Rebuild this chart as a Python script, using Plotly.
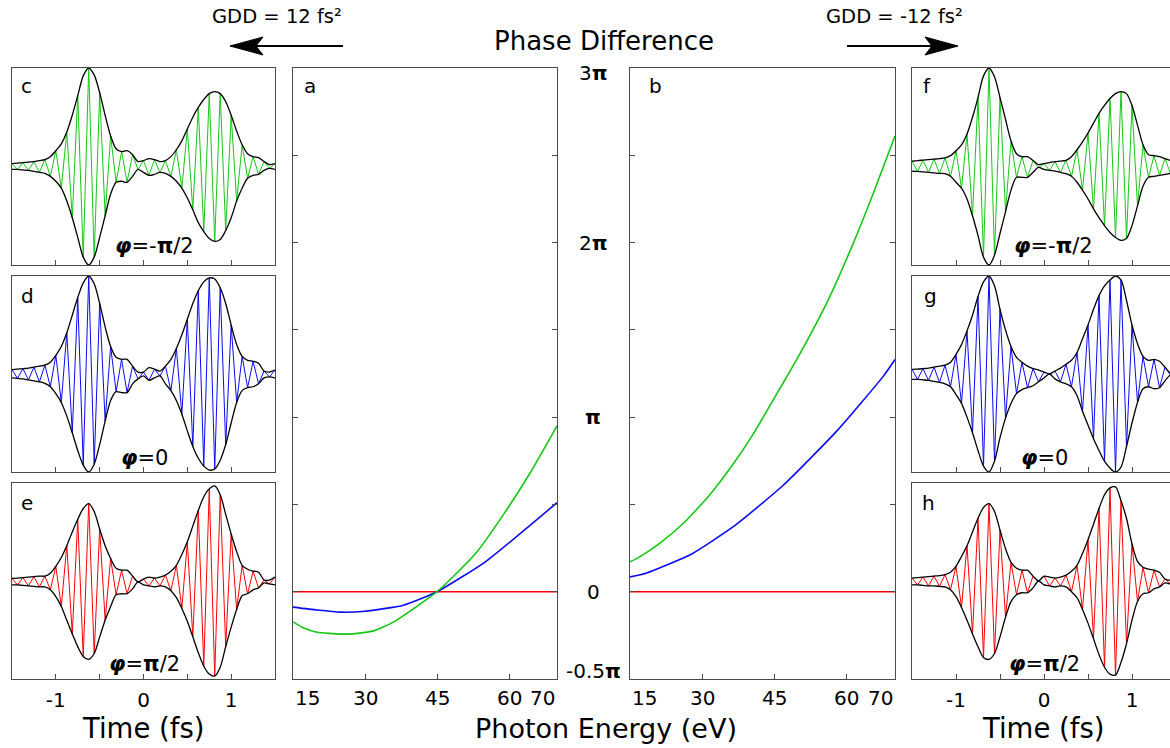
import plotly.graph_objects as go

W, H = 1170, 748

# ---------------- Phase difference data (units of pi) ----------------
E_A_GREEN = [15, 17, 20, 25, 28, 32, 36, 40, 45, 48.3, 53.3, 58.8, 64.4, 70]
PHI_A_GREEN = [-0.173, -0.205, -0.232, -0.243, -0.24, -0.223, -0.173, -0.10, 0.0, 0.084, 0.227, 0.44, 0.68, 0.95]
E_A_BLUE = [15, 20, 25, 30, 38, 45, 55, 70]
PHI_A_BLUE = [-0.088, -0.105, -0.117, -0.112, -0.077, 0.0, 0.17, 0.51]
E_B_GREEN = [15, 16.9, 21.3, 26.2, 31.4, 36.3, 40.5, 45.4, 50.6, 56.2, 61.4, 65.6, 70]
PHI_B_GREEN = [0.171, 0.198, 0.28, 0.395, 0.55, 0.727, 0.90, 1.13, 1.38, 1.675, 2.0, 2.29, 2.61]
E_B_BLUE = [15, 18.3, 27.7, 36.8, 46.8, 57.9, 67.6, 70]
PHI_B_BLUE = [0.085, 0.106, 0.215, 0.38, 0.61, 0.92, 1.235, 1.33]
E_RED = [15, 70]
PHI_RED = [0.0, 0.0]

PHASE_TICKVALS = [-0.5, 0, 0.5, 1, 1.5, 2, 2.5, 3]
PHASE_LABELS = [(3, "3<b>π</b>"), (2, "2<b>π</b>"), (1, "<b>π</b>"), (0, "0"), (-0.5, "-0.5<b>π</b>")]
ENERGY_TICKS = [15, 30, 45, 60, 70]
TIME_TICKS = [-1, 0, 1]
TIME_MINOR_TICKS = [-0.5, 0.5]

# ---------------- Time-domain fields (normalised) ----------------
T_GRID = [round(-1.5 + 0.0625 * i, 4) for i in range(49)]

U_C = [0.03, 0.035, 0.04, 0.045, 0.05, 0.06, 0.07, 0.10, 0.16, 0.23, 0.35, 0.52, 0.72, 0.92, 1.00, 0.93, 0.75, 0.52, 0.31, 0.18, 0.15, 0.16, 0.12, 0.05, 0.06,
       0.08, 0.07, 0.05, 0.06, 0.10, 0.17, 0.26, 0.38, 0.50, 0.60, 0.68, 0.74, 0.76, 0.74, 0.66, 0.52, 0.36, 0.22, 0.13, 0.10, 0.09, 0.05, 0.02, 0.03]
L_C = [-0.03, -0.03, -0.035, -0.04, -0.05, -0.06, -0.07, -0.10, -0.15, -0.22, -0.35, -0.52, -0.72, -0.92, -1.00, -0.92, -0.72, -0.50, -0.28, -0.16, -0.15, -0.16, -0.10, -0.03, -0.06,
       -0.09, -0.08, -0.06, -0.07, -0.10, -0.15, -0.22, -0.32, -0.44, -0.57, -0.66, -0.73, -0.76, -0.74, -0.65, -0.52, -0.35, -0.22, -0.12, -0.09, -0.08, -0.04, -0.02, -0.03]

U_D = [0.045, 0.05, 0.055, 0.06, 0.07, 0.08, 0.09, 0.12, 0.19, 0.28, 0.42, 0.60, 0.78, 0.93, 1.00, 0.92, 0.72, 0.48, 0.28, 0.17, 0.15, 0.15, 0.08, 0.02, 0.02,
       0.065, 0.05, 0.03, 0.08, 0.15, 0.26, 0.40, 0.56, 0.72, 0.85, 0.94, 0.98, 0.97, 0.88, 0.72, 0.50, 0.30, 0.18, 0.14, 0.13, 0.11, 0.03, 0.02, 0.04]
L_D = [-0.04, -0.045, -0.05, -0.06, -0.07, -0.08, -0.095, -0.13, -0.20, -0.29, -0.43, -0.60, -0.78, -0.93, -1.00, -0.92, -0.72, -0.48, -0.27, -0.18, -0.19, -0.19, -0.10, -0.05, -0.02,
       -0.065, -0.04, -0.02, -0.10, -0.17, -0.27, -0.41, -0.58, -0.74, -0.86, -0.94, -0.98, -0.97, -0.88, -0.72, -0.50, -0.29, -0.17, -0.14, -0.13, -0.10, -0.04, -0.03, -0.04]

U_E = [0.026, 0.03, 0.035, 0.04, 0.045, 0.05, 0.05, 0.08, 0.15, 0.24, 0.36, 0.50, 0.63, 0.74, 0.79, 0.71, 0.53, 0.36, 0.23, 0.13, 0.11, 0.11, 0.05, -0.01, 0.02,
       0.04, 0.03, 0.04, 0.06, 0.10, 0.16, 0.27, 0.40, 0.56, 0.72, 0.86, 0.94, 0.97, 0.88, 0.68, 0.48, 0.30, 0.16, 0.12, 0.10, 0.09, 0.01, 0.01, 0.04]
L_E = [-0.04, -0.04, -0.045, -0.05, -0.055, -0.06, -0.06, -0.09, -0.16, -0.26, -0.40, -0.54, -0.67, -0.77, -0.80, -0.74, -0.57, -0.40, -0.26, -0.14, -0.13, -0.13, -0.08, -0.01, -0.04,
       -0.05, -0.06, -0.05, -0.06, -0.10, -0.17, -0.28, -0.41, -0.57, -0.73, -0.87, -0.95, -0.97, -0.88, -0.67, -0.47, -0.29, -0.15, -0.13, -0.09, -0.07, -0.02, -0.03, -0.04]

U_F = [0.053, 0.06, 0.065, 0.07, 0.075, 0.08, 0.087, 0.11, 0.16, 0.22, 0.33, 0.50, 0.70, 0.92, 1.00, 0.91, 0.70, 0.48, 0.26, 0.13, 0.10, 0.10, 0.06, 0.02, 0.03,
       0.04, 0.05, 0.055, 0.063, 0.10, 0.17, 0.25, 0.34, 0.44, 0.54, 0.62, 0.69, 0.74, 0.76, 0.74, 0.62, 0.42, 0.22, 0.12, 0.11, 0.10, 0.08, 0.06, 0.05]
L_F = [-0.046, -0.05, -0.055, -0.06, -0.065, -0.07, -0.073, -0.10, -0.16, -0.22, -0.33, -0.50, -0.70, -0.92, -1.00, -0.90, -0.68, -0.46, -0.24, -0.11, -0.11, -0.11, -0.06, -0.01, -0.03,
       -0.04, -0.046, -0.06, -0.073, -0.10, -0.16, -0.24, -0.33, -0.43, -0.52, -0.60, -0.67, -0.72, -0.75, -0.73, -0.60, -0.40, -0.20, -0.11, -0.10, -0.09, -0.08, -0.07, -0.06]

U_G = [0.048, 0.05, 0.055, 0.06, 0.07, 0.08, 0.09, 0.12, 0.20, 0.30, 0.44, 0.60, 0.79, 0.94, 1.00, 0.90, 0.66, 0.45, 0.28, 0.17, 0.12, 0.08, 0.055, 0.04, 0.02,
       0.0, 0.03, 0.06, 0.10, 0.14, 0.22, 0.36, 0.50, 0.66, 0.80, 0.90, 0.96, 1.00, 0.96, 0.75, 0.50, 0.31, 0.18, 0.14, 0.15, 0.13, 0.07, 0.01, 0.03]
L_G = [-0.054, -0.055, -0.06, -0.065, -0.075, -0.085, -0.10, -0.13, -0.21, -0.30, -0.44, -0.60, -0.78, -0.94, -1.00, -0.89, -0.65, -0.45, -0.30, -0.20, -0.16, -0.14, -0.12, -0.08, -0.04,
       0.0, -0.05, -0.08, -0.10, -0.13, -0.22, -0.38, -0.52, -0.66, -0.78, -0.89, -0.96, -1.00, -0.95, -0.74, -0.50, -0.29, -0.15, -0.13, -0.15, -0.14, -0.07, -0.01, -0.03]

U_H = [0.03, 0.035, 0.04, 0.045, 0.05, 0.055, 0.065, 0.09, 0.15, 0.25, 0.36, 0.50, 0.64, 0.75, 0.79, 0.71, 0.52, 0.33, 0.19, 0.13, 0.11, 0.11, 0.05, 0.0, 0.05,
       0.04, 0.03, 0.04, 0.06, 0.10, 0.16, 0.28, 0.42, 0.58, 0.74, 0.88, 0.95, 0.96, 0.82, 0.64, 0.38, 0.20, 0.14, 0.12, 0.11, 0.09, 0.02, 0.01, 0.04]
L_H = [-0.04, -0.04, -0.045, -0.05, -0.05, -0.055, -0.06, -0.09, -0.16, -0.27, -0.40, -0.54, -0.67, -0.78, -0.80, -0.74, -0.57, -0.37, -0.21, -0.14, -0.12, -0.12, -0.07, 0.0, -0.04,
       -0.05, -0.06, -0.05, -0.06, -0.11, -0.17, -0.29, -0.43, -0.59, -0.75, -0.88, -0.95, -0.96, -0.83, -0.64, -0.40, -0.21, -0.13, -0.12, -0.08, -0.06, -0.02, -0.03, -0.04]

GREEN = "rgb(20,200,20)"
BLUE = "rgb(10,10,245)"
RED = "rgb(255,0,0)"
FRAME = "#4a4a4a"
FONT = "DejaVu Sans"


def px(x):
    return x / W


def py(y):
    return 1 - y / H


fig = go.Figure()

# axis layout: (index, x0, x1, y0, y1)
AX = {
    "c": (1, 12, 275, 68, 265), "d": (2, 12, 275, 276, 472), "e": (3, 12, 275, 483, 679),
    "a": (4, 293, 557, 68, 679), "b": (5, 630, 895, 68, 679),
    "f": (6, 912, 1170, 68, 265), "g": (7, 912, 1170, 276, 472), "h": (8, 912, 1170, 483, 679),
}

layout_axes = {}
for key, (i, x0, x1, y0, y1) in AX.items():
    sfx = "" if i == 1 else str(i)
    xa = dict(domain=[px(x0), px(x1)], anchor="y" + sfx, showgrid=False, zeroline=False,
              automargin=False,
              showline=True, linecolor=FRAME, linewidth=1, mirror=True,
              ticks="inside", ticklen=5, tickcolor=FRAME, tickwidth=1,
              tickfont=dict(family=FONT, size=20, color="black"), fixedrange=True)
    ya = dict(domain=[py(y1), py(y0)], anchor="x" + sfx, showgrid=False, zeroline=False,
              automargin=False,
              showline=True, linecolor=FRAME, linewidth=1, fixedrange=True)
    if key in ("a", "b"):
        xa.update(range=[15, 70], tickvals=ENERGY_TICKS, showticklabels=False)
        ya.update(range=[-0.5, 3], tickvals=PHASE_TICKVALS, ticks="inside", ticklen=5,
                  tickcolor=FRAME, tickwidth=1, mirror="ticks", showticklabels=False)
    else:
        rng = [-1.5, 1.5] if key in ("c", "d", "e") else [-1.5, 1.5 - 6 / 88]
        xa.update(range=rng, tickvals=TIME_TICKS, ticktext=[str(v) for v in TIME_TICKS],
                  minor=dict(tickvals=TIME_MINOR_TICKS, ticks="inside", ticklen=5,
                             tickcolor=FRAME, tickwidth=1, showgrid=False),
                  showticklabels=key in ("e", "h"), ticklabelstandoff=3)
        ya.update(range=[-1, 1], ticks="", showticklabels=False,
                  mirror=key in ("c", "d", "e"))
    layout_axes["xaxis" + sfx] = xa
    layout_axes["yaxis" + sfx] = ya


def ref(key):
    i = AX[key][0]
    return ("x", "y") if i == 1 else ("x%d" % i, "y%d" % i)


# phase panels
for key, series in (("a", [(E_RED, PHI_RED, RED), (E_A_BLUE, PHI_A_BLUE, BLUE), (E_A_GREEN, PHI_A_GREEN, GREEN)]),
                    ("b", [(E_RED, PHI_RED, RED), (E_B_BLUE, PHI_B_BLUE, BLUE), (E_B_GREEN, PHI_B_GREEN, GREEN)])):
    xr, yr = ref(key)
    for ex, ph, col in series:
        fig.add_trace(go.Scatter(x=ex, y=ph, mode="lines", line=dict(color=col, width=1.6, shape="spline", smoothing=0.5),
                                 xaxis=xr, yaxis=yr, hoverinfo="skip"))

# field panels
FIELDS = {
    "c": (U_C, L_C, GREEN), "d": (U_D, L_D, BLUE), "e": (U_E, L_E, RED),
    "f": (U_F, L_F, GREEN), "g": (U_G, L_G, BLUE), "h": (U_H, L_H, RED),
}
for key, (up, lo, col) in FIELDS.items():
    xr, yr = ref(key)
    field = [up[i] if i % 2 == 0 else lo[i] for i in range(len(T_GRID))]
    fig.add_trace(go.Scatter(x=T_GRID, y=field, mode="lines", line=dict(color=col, width=1),
                             xaxis=xr, yaxis=yr, hoverinfo="skip"))
    for env in (up, lo):
        fig.add_trace(go.Scatter(x=T_GRID, y=env, mode="lines",
                                 line=dict(color="black", width=1.3, shape="spline", smoothing=0.8),
                                 xaxis=xr, yaxis=yr, hoverinfo="skip"))

ann = []


def text(x, y, s, size, **kw):
    d = dict(x=px(x), y=py(y), xref="paper", yref="paper", text=s, showarrow=False,
             font=dict(family=FONT, size=size, color="black"), xanchor="center", yanchor="middle")
    d.update(kw)
    ann.append(d)


# panel letters
for s, x, y in (("c", 26, 86), ("d", 27, 296), ("e", 27, 503), ("a", 310, 86), ("b", 655, 86),
                ("f", 927, 86), ("g", 930, 296), ("h", 928, 503)):
    text(x, y, s, 20)

# phase labels in field panels
PHI_M = "<b><i>φ</i></b>=-<b>π</b>/2"
PHI_0 = "<b><i>φ</i></b>=0"
PHI_P = "<b><i>φ</i></b>=<b>π</b>/2"
for s, x, y in ((PHI_M, 154, 246), (PHI_0, 144, 458), (PHI_P, 144, 664),
                (PHI_M, 1053, 246), (PHI_0, 1044, 458), (PHI_P, 1044, 664)):
    text(x, y, s, 21)

# phase tick labels between panels a and b
ya_ref = ref("a")[1]
for val, lab in PHASE_LABELS:
    shift = -5 if val == 3 else (8 if val == -0.5 else 0)
    ann.append(dict(x=px(593), y=val, xref="paper", yref=ya_ref, text=lab, showarrow=False,
                    font=dict(family=FONT, size=20, color="black"), xanchor="center", yanchor="middle",
                    yshift=shift))

# photon energy tick labels (end labels kept inside the frame, as in the reference)
for key in ("a", "b"):
    xr = ref(key)[0]
    for v in ENERGY_TICKS:
        anchor = "left" if v == ENERGY_TICKS[0] else ("right" if v == ENERGY_TICKS[-1] else "center")
        ann.append(dict(x=v, y=py(698), xref=xr, yref="paper", text=str(v), showarrow=False,
                        font=dict(family=FONT, size=20, color="black"), xanchor=anchor, yanchor="middle"))

# titles
text(604, 41, "Phase Difference", 26)
text(277, 17, "GDD = 12 fs²", 19.5)
text(895, 17, "GDD = -12 fs²", 19.5)
text(143, 728, "Time (fs)", 27.5)
text(1043, 728, "Time (fs)", 27.5)
text(606, 728, "Photon Energy (eV)", 27)

# arrows (shaft + concave arrow head)
shapes = []


def arrow(x_tail, x_tip, y):
    d = 1 if x_tip > x_tail else -1
    shapes.append(dict(type="line", xref="paper", yref="paper", x0=px(x_tail), x1=px(x_tip - d * 20),
                       y0=py(y), y1=py(y), line=dict(color="black", width=2)))
    pts = [(x_tip, y), (x_tip - d * 33, y - 9), (x_tip - d * 26, y), (x_tip - d * 33, y + 9)]
    path = "M " + " L ".join("%.5f,%.5f" % (px(a), py(b)) for a, b in pts) + " Z"
    shapes.append(dict(type="path", xref="paper", yref="paper", path=path,
                       fillcolor="black", line=dict(color="black", width=1)))


arrow(343, 230, 46)
arrow(847, 958, 46)

fig.update_layout(width=W, height=H, margin=dict(l=0, r=0, t=0, b=0, autoexpand=False),
                  paper_bgcolor="white", plot_bgcolor="white", showlegend=False,
                  font=dict(family=FONT, color="black"), annotations=ann, shapes=shapes,
                  **layout_axes)

fig.write_html("out.html", config={"displayModeBar": False})
